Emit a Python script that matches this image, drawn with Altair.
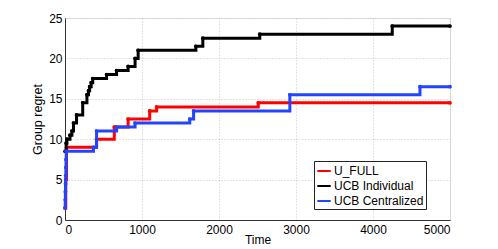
import altair as alt
import pandas as pd

names = ["U_FULL", "UCB Individual", "UCB Centralized"]
colors = ["#ff0000", "#000000", "#2244ff"]

ufull_t = [0, 10, 20, 410, 640, 820, 1100, 1190, 2510, 5000]
ufull_y = [1.5, 5, 9, 10, 11.5, 12.5, 13.5, 14, 14.5, 14.5]

indiv_t = [0, 15, 25, 65, 90, 110, 150, 230, 285, 305, 320, 340, 360, 540, 670, 820, 910, 950, 1700, 1790, 2530, 4250, 5000]
indiv_y = [8.5, 9.5, 10, 10.5, 11, 12, 13, 14.5, 15.5, 16, 16.5, 17, 17.5, 18, 18.5, 19, 20, 21, 21.5, 22.5, 23, 24, 24]

central_t = [0, 3, 5, 7, 9, 11, 13, 16, 370, 410, 670, 910, 1620, 1670, 2920, 4610, 5000]
central_y = [1.5, 2.5, 3.5, 4.5, 5.5, 6.5, 7.5, 8.5, 9, 11, 11.5, 12, 12.5, 13.5, 15.5, 16.5, 16.5]

rows = []
for name, ts, ys in [(names[0], ufull_t, ufull_y), (names[1], indiv_t, indiv_y), (names[2], central_t, central_y)]:
    for t, y in zip(ts, ys):
        rows.append({"Time": t, "Regret": y, "Algorithm": name})
df = pd.DataFrame(rows)

FONT = "Liberation Sans"

x = alt.X("Time:Q", title="Time",
          scale=alt.Scale(domain=[0, 5000], nice=False),
          axis=alt.Axis(values=[0, 1000, 2000, 3000, 4000, 5000], format="d",
                        grid=True, gridDash=[1, 2], gridColor="#c8c8c8",
                        ticks=False, labelPadding=4, titlePadding=-1,
                        labelFontSize=12, titleFontSize=12, titleFontWeight="normal",
                        labelFont=FONT, titleFont=FONT, domainColor="#333333",
                        labelColor="#000", titleColor="#000"))
y = alt.Y("Regret:Q", title="Group regret",
          scale=alt.Scale(domain=[0, 25], nice=False),
          axis=alt.Axis(values=[0, 5, 10, 15, 20, 25],
                        grid=True, gridDash=[1, 2], gridColor="#c8c8c8",
                        ticks=False, labelPadding=3, titlePadding=4,
                        labelFontSize=12, titleFontSize=12.5, titleFontWeight="normal",
                        labelFont=FONT, titleFont=FONT, domainColor="#333333",
                        labelColor="#000", titleColor="#000"))

color = alt.Color("Algorithm:N",
                  scale=alt.Scale(domain=names, range=colors),
                  legend=alt.Legend(title=None, orient="none", legendX=249, legendY=143,
                                    symbolType="stroke", symbolStrokeWidth=2, symbolSize=180,
                                    labelFont=FONT, labelFontSize=12, labelColor="#000",
                                    fillColor="white", strokeColor="#222222", padding=2,
                                    rowPadding=1, symbolOffset=0, labelOffset=2,
                                    labelLimit=200))

layers = []
for name in names:
    b = alt.Chart(df).transform_filter(alt.datum.Algorithm == name)
    layers.append(b.mark_line(interpolate="step-after", strokeWidth=3).encode(x=x, y=y, color=color))
    layers.append(b.mark_point(filled=True, size=14, opacity=1).encode(x=x, y=y, color=color))

chart = alt.layer(*layers).properties(
    width=385, height=202,
    autosize=alt.AutoSizeParams(type="none"),
    padding={"left": 57, "top": 10, "right": 40, "bottom": 29},
).configure_view(stroke="#333333", strokeWidth=1).configure(background="white")

chart.save("out.html", embed_options={"renderer": "svg", "actions": False})
